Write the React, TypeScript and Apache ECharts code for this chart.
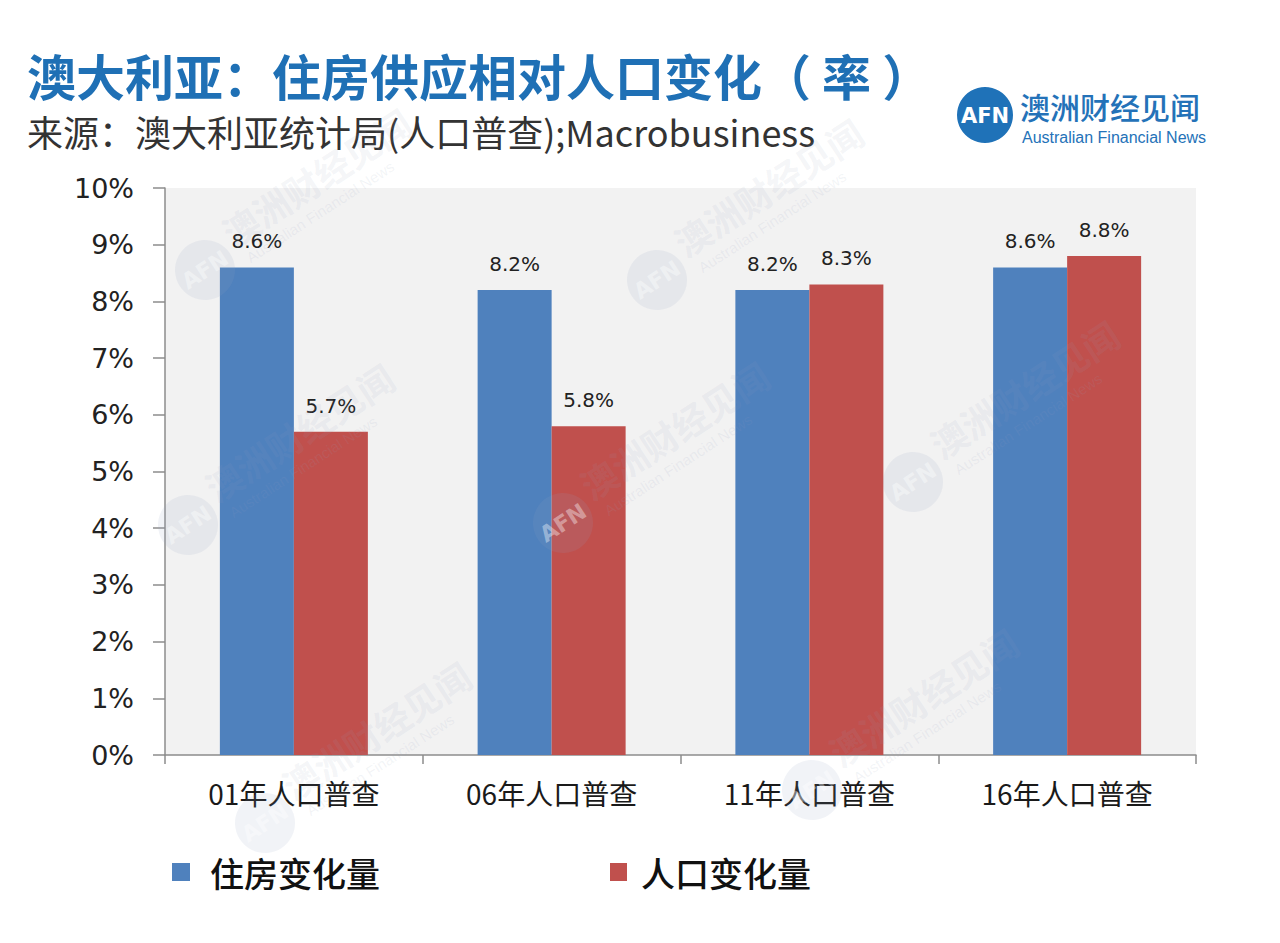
import React, { useEffect, useRef } from "react";
import * as echarts from "echarts";

const categories = ["01年人口普查", "06年人口普查", "11年人口普查", "16年人口普查"];
const housingChange = [8.6, 8.2, 8.2, 8.6];
const populationChange = [5.7, 5.8, 8.3, 8.8];
const seriesNames = ["住房变化量", "人口变化量"];
const yMin = 0;
const yMax = 10;
const yStep = 1;

const titleText = "澳大利亚：住房供应相对人口变化（ 率 ）";
const subtitleText = "来源：澳大利亚统计局(人口普查);Macrobusiness";
const logoCn = "澳洲财经见闻";
const logoEn = "Australian Financial News";

const watermarkSpots: [number, number][] = [
  [205, 270],
  [657, 280],
  [188, 525],
  [563, 523],
  [913, 482],
  [265, 823],
  [812, 790],
];

const BLUE = "#4f81bd";
const RED = "#c0504d";
const CJK = '"Noto Sans CJK SC", "Noto Sans", sans-serif';
const NUM = '"DejaVu Sans", Verdana, sans-serif';

function watermark(cx: number, cy: number) {
  return {
    type: "group",
    x: cx,
    y: cy,
    rotation: (33 * Math.PI) / 180,
    silent: true,
    z: 50,
    children: [
      {
        type: "circle",
        shape: { cx: 0, cy: 0, r: 30 },
        style: { fill: "rgba(150,160,190,0.13)" },
        z: 50,
      },
      {
        type: "text",
        x: 0,
        y: 0,
        style: {
          text: "AFN",
          font: `bold 22px ${NUM}`,
          fill: "rgba(255,255,255,0.4)",
          align: "center",
          verticalAlign: "middle",
        },
        z: 51,
      },
      {
        type: "text",
        x: 36,
        y: -18,
        style: {
          text: logoCn,
          font: `bold 36px ${CJK}`,
          fill: "rgba(150,160,190,0.11)",
          align: "left",
          verticalAlign: "middle",
        },
        z: 51,
      },
      {
        type: "text",
        x: 42,
        y: 14,
        style: {
          text: logoEn,
          font: `15px "Liberation Sans", Arial, sans-serif`,
          fill: "rgba(150,160,190,0.12)",
          align: "left",
          verticalAlign: "middle",
        },
        z: 51,
      },
    ],
  };
}

export default function App() {
  const ref = useRef<HTMLDivElement>(null);

  useEffect(() => {
    if (!ref.current) return;
    const chart = echarts.init(ref.current, undefined, { renderer: "svg" });
    const labelCfg = {
      show: true,
      position: "top",
      distance: 16,
      formatter: (p: any) => `${Number(p.value).toFixed(1)}%`,
      fontSize: 20,
      color: "#222",
      fontFamily: NUM,
    };
    const option: any = {
      animation: false,
      backgroundColor: "#ffffff",
      grid: {
        left: 165,
        right: 84,
        top: 188,
        bottom: 188,
        show: true,
        backgroundColor: "#f2f2f2",
        borderWidth: 0,
      },
      xAxis: {
        type: "category",
        data: categories,
        axisLine: { show: true, lineStyle: { color: "#8c8c8c", width: 1.5 } },
        axisTick: { show: true, length: 9, lineStyle: { color: "#8c8c8c", width: 1.5 } },
        axisLabel: {
          fontSize: 28,
          color: "#1a1a1a",
          margin: 24,
          fontFamily: CJK,
        },
        splitLine: { show: false },
      },
      yAxis: {
        type: "value",
        min: yMin,
        max: yMax,
        interval: yStep,
        axisLine: { show: true, lineStyle: { color: "#8c8c8c", width: 1.5 } },
        axisTick: { show: true, length: 12, lineStyle: { color: "#8c8c8c", width: 1.5 } },
        axisLabel: {
          formatter: "{value}%",
          fontSize: 27,
          color: "#222",
          margin: 31,
          fontFamily: NUM,
        },
        splitLine: { show: false },
      },
      legend: [
        {
          data: [seriesNames[0]],
          left: 167,
          top: 850,
          icon: "rect",
          itemWidth: 18,
          itemHeight: 18,
          selectedMode: false,
          textStyle: {
            fontSize: 34,
            color: "#111",
            fontFamily: CJK,
            fontWeight: 500,
            padding: [0, 0, 0, 15],
          },
        },
        {
          data: [seriesNames[1]],
          left: 605,
          top: 850,
          icon: "rect",
          itemWidth: 17,
          itemHeight: 18,
          selectedMode: false,
          textStyle: {
            fontSize: 34,
            color: "#111",
            fontFamily: CJK,
            fontWeight: 500,
            padding: [0, 0, 0, 9],
          },
        },
      ],
      graphic: [
        {
          type: "text",
          left: 27,
          top: 50,
          style: {
            text: titleText,
            font: `bold 49px ${CJK}`,
            lineHeight: 49,
            fill: "#1f70b5",
          },
        },
        {
          type: "text",
          left: 27,
          top: 113,
          style: {
            text: subtitleText,
            font: `400 36px ${CJK}`,
            lineHeight: 36,
            fill: "#333",
          },
        },
        {
          type: "circle",
          shape: { cx: 985, cy: 115, r: 28 },
          style: { fill: "#1f72b8" },
        },
        {
          type: "text",
          x: 985,
          y: 116,
          style: {
            text: "AFN",
            font: `bold 21px ${NUM}`,
            fill: "#ffffff",
            align: "center",
            verticalAlign: "middle",
          },
        },
        {
          type: "text",
          x: 1020,
          y: 106,
          style: {
            text: logoCn,
            font: `500 30px ${CJK}`,
            lineHeight: 30,
            fill: "#2472b8",
            align: "left",
            verticalAlign: "middle",
          },
        },
        {
          type: "text",
          x: 1022,
          y: 137,
          style: {
            text: logoEn,
            font: `16px "Liberation Sans", Arial, sans-serif`,
            lineHeight: 16,
            fill: "#2472b8",
            align: "left",
            verticalAlign: "middle",
          },
        },
        ...watermarkSpots.map(([x, y]) => watermark(x, y)),
      ],
      series: [
        {
          name: seriesNames[0],
          type: "bar",
          data: housingChange,
          barWidth: 74,
          barGap: "0%",
          itemStyle: { color: BLUE },
          label: labelCfg,
        },
        {
          name: seriesNames[1],
          type: "bar",
          data: populationChange,
          barWidth: 74,
          barGap: "0%",
          itemStyle: { color: RED },
          label: labelCfg,
        },
      ],
    };
    chart.setOption(option);
    return () => chart.dispose();
  }, []);

  return (
    <div
      ref={ref}
      style={{ position: "absolute", left: 0, top: 0, width: 1280, height: 943 }}
    />
  );
}
